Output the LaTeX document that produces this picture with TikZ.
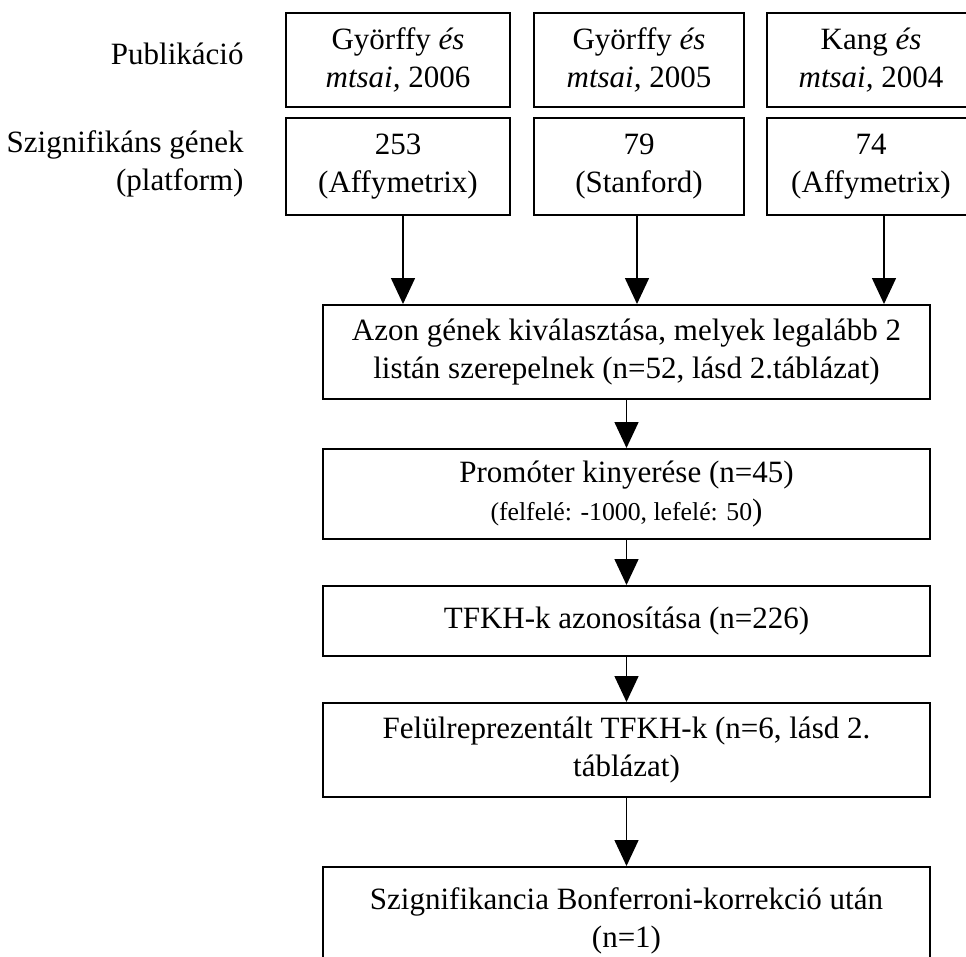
\documentclass[tikz,border=0pt]{standalone}
\usepackage{fontspec}
\setmainfont{Liberation Serif}
\usetikzlibrary{arrows.meta}
\usetikzlibrary{positioning}

\begin{document}
\begin{tikzpicture}[x=0.4pt,y=-0.4pt]
	%\draw[help lines] (0,0) grid (966,956);
	\useasboundingbox (0,0) rectangle (966,956);

	\tikzstyle{lnode} = [inner sep=0pt,align=right,font=\fontsize{12.4}{15}\selectfont]
	\tikzstyle{pnode} = [rectangle,draw,line width=0.8pt,inner sep=0pt,align=center,font=\fontsize{12.4}{15}\selectfont]
	\tikzstyle{wnode} = [pnode,minimum width=242.8pt]
	\tikzstyle{vedge} = [-{Triangle[width=9.6pt,length=10.4pt]},line width=0.6pt]

	\node[lnode,anchor=base east] (publ) at (244, 64) {Publikáció};
	\node[lnode,anchor=east] (szig) at (244, 164) {Szignifikáns gének\\(platform)};

	\node[pnode,minimum width=89.6pt,minimum height=37.6pt] (p1) at (398, 60) {Györffy \textit{és}\\\textit{mtsai,} 2006};
	\node[pnode,minimum width=84pt,minimum height=37.6pt] (p2) at (639, 60) {Györffy \textit{és}\\\textit{mtsai,} 2005};
	\node[pnode,minimum width=83.2pt,minimum height=37.6pt] (p3) at (871, 60) {Kang \textit{és}\\\textit{mtsai,} 2004};

	\node[pnode,minimum width=89.6pt,minimum height=38.8pt] (s1) at (398, 166.5) {253\\(Affymetrix)};
	\node[pnode,minimum width=84pt,minimum height=38.8pt] (s2) at (639, 166.5) {79\\(Stanford)};
	\node[pnode,minimum width=83.2pt,minimum height=38.8pt] (s3) at (871, 166.5) {74\\(Affymetrix)};

	\node[wnode,minimum height=37.6pt] (azon) at (626.5, 352) {Azon gének kiválasztása, melyek legalább 2\\listán szerepelnek (n=52, lásd 2.táblázat)};
	\node[wnode,minimum height=36pt] (prom) at (626.5, 494) {Promóter kinyerése (n=45)\\{\fontsize{10.3}{12}\selectfont (felfelé: -1000, lefelé: 50}{)}};
	\node[wnode,minimum height=28pt] (tfkh) at (626.5, 621) {TFKH-k azonosítása (n=226)};
	\node[wnode,minimum height=37.6pt] (felul) at (626.5, 750) {Felülreprezentált TFKH-k (n=6, lásd 2.\\táblázat)};
	\node[wnode,minimum height=43.2pt] (bonf) at (626.5, 921) {Szignifikancia Bonferroni-korrekció után\\(n=1)};

	\draw[vedge] ([xshift=2pt]s1.south) -- ([xshift=2pt]s1.south |- azon.north);
	\draw[vedge] ([xshift=-0.8pt]s2.south) -- ([xshift=-0.8pt]s2.south |- azon.north);
	\draw[vedge] ([xshift=5.2pt]s3.south) -- ([xshift=5.2pt]s3.south |- azon.north);
	\draw (azon) edge [vedge] (prom);
	\draw (prom) edge [vedge] (tfkh);
	\draw (tfkh) edge [vedge] (felul);
	\draw (felul) edge [vedge] (bonf);

\end{tikzpicture}
\end{document}
